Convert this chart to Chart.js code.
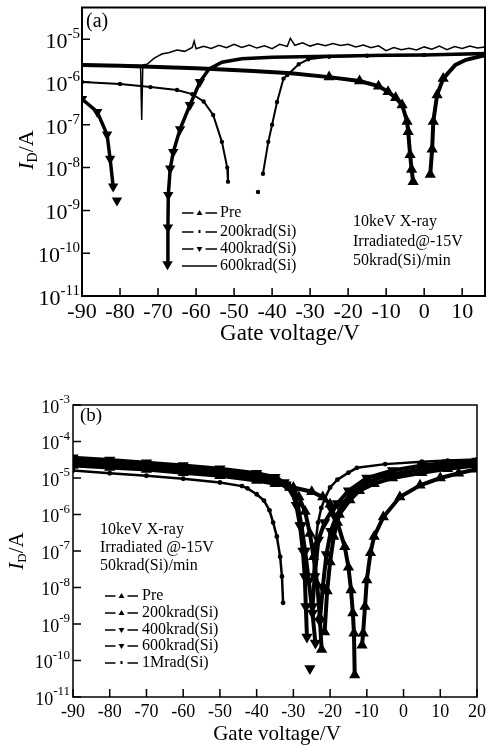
<!DOCTYPE html>
<html>
<head>
<meta charset="utf-8">
<script src="https://cdn.jsdelivr.net/npm/chart.js@4.4.1/dist/chart.umd.min.js"></script>
<style>
    html, body { margin: 0; padding: 0; background: #fff; }
    #wrap { position: relative; width: 496px; height: 747px; overflow: hidden; }
    .panel { position: absolute; left: 0; width: 496px; }
    #panelA { top: 0; height: 345px; }
    #panelB { top: 370px; height: 377px; }
</style>
</head>
<body>
<div id="wrap">
    <div class="panel" id="panelA"><canvas id="chartA"></canvas></div>
    <div class="panel" id="panelB"><canvas id="chartB"></canvas></div>
</div>
<script>
// ---- Panel (a): datos ----
const aXTicks = [-90, -80, -70, -60, -50, -40, -30, -20, -10, 0, 10];
const aYExps = [-11, -10, -9, -8, -7, -6, -5];
const aLabels = ['Pre', '200krad(Si)', '400krad(Si)', '600krad(Si)'];
const aNotes = ['10keV X-ray', 'Irradiated@-15V', '50krad(Si)/min'];

const aPreVg = [-90, -80, -70, -60, -53, -45, -35, -25, -17, -12, -9.5, -7.5, -5.8, -4.5, -4.2, -3.7, -3.3, -2.9, 0,
    1.6, 2.1, 2.4, 3.4, 5, 8.2, 11, 16];
const aPreId = [2.5e-6, 2.4e-6, 2.25e-6, 2.1e-6, 1.95e-6, 1.8e-6, 1.6e-6, 1.3e-6, 1.05e-6, 8e-7, 5.9e-7, 4.3e-7, 2.9e-7, 1.2e-7, 6.9e-8, 2e-8, 9e-9, 4.7e-9, null,
    6.9e-9, 2.7e-8, 1.2e-7, 5e-7, 1.2e-6, 2.5e-6, 3.3e-6, 4.2e-6];

const a200Vg = [-90, -80, -72, -65, -61, -58, -55.5, -53.2, -51.8, -51.6, -47, -43.7, -43, -42.4, -41, -40, -38.7, -37, -36, -33, -30.5, -25, -15, 0, 16];
const a200Id = [1e-6, 9e-7, 7.6e-7, 6.5e-7, 5.2e-7, 3.5e-7, 1.7e-7, 4e-8, 1e-8, 4.7e-9, null, 2.7e-9, null,
    7.2e-9, 4e-8, 1e-7, 3.4e-7, 1.2e-6, 1.45e-6, 2.6e-6, 3.4e-6, 3.9e-6, 4.1e-6, 4.3e-6, 4.5e-6];

const a400Vg = [-90, -86, -83.4, -82.6, -81.8, -81.3, -80.8, -74,
    -67.5, -67.4, -67.3, -66.8, -66, -64.2, -61.6, -59, -56.6, -53.2, -48, -40, -25, -10, 0, 16];
const a400Id = [4e-7, 2e-7, 5.9e-8, 1.6e-8, 3.6e-9, null, 1.7e-9, null,
    5.5e-11, 4e-10, 2.3e-9, 9.5e-9, 2.3e-8, 7.9e-8, 2.9e-7, 1e-6, 2e-6, 2.9e-6, 3.5e-6, 3.8e-6, 4e-6, 4.2e-6, 4.3e-6, 4.6e-6];

const a600Vg = [-90, -82, -74.6, -74.3, -74.0, -72.9, -71, -69, -67, -65, -63, -61, -60.5, -60, -58, -56, -54, -52, -50, -48, -46,
    -44, -42, -40, -38, -36, -35.2, -34, -32, -30, -28, -26, -24, -22, -20, -18, -16, -14, -12, -10, -8, -6, -4, -2, 0, 2, 4, 6,
    8, 10, 12, 14, 16];
const a600Id = [2.6e-6, 2.5e-6, 2.45e-6, 1.3e-7, 2.5e-6, 2.6e-6, 3.6e-6, 4.5e-6, 4.9e-6, 5.6e-6, 5.2e-6, 6.4e-6, 9e-6, 6e-6, 6.8e-6, 6.1e-6, 7.2e-6, 6.3e-6, 7.6e-6, 6.4e-6, 7.3e-6,
    6.2e-6, 7e-6, 6e-6, 7.6e-6, 6.8e-6, 1.05e-5, 7.2e-6, 8.2e-6, 6.9e-6, 7.8e-6, 7e-6, 7.9e-6, 7.1e-6, 7.6e-6, 6.6e-6, 7.3e-6, 6.3e-6, 7e-6, 5.4e-6, 6.4e-6, 5.7e-6, 6.1e-6, 5.6e-6, 6.6e-6, 5.8e-6, 6.9e-6, 5.7e-6,
    6.7e-6, 6.1e-6, 6.9e-6, 6.2e-6, 6.6e-6];

// ---- Panel (b): datos ----
const bXTicks = [-90, -80, -70, -60, -50, -40, -30, -20, -10, 0, 10, 20];
const bYExps = [-11, -10, -9, -8, -7, -6, -5, -4, -3];
const bLabels = ['Pre', '200krad(Si)', '400krad(Si)', '600krad(Si)', '1Mrad(Si)'];
const bNotes = ['10keV X-ray', 'Irradiated @-15V', '50krad(Si)/min'];

const bPreVg = [-90, -80, -70, -60, -50, -40, -35, -30, -25, -22, -20, -18, -16, -15, -14.3, -13.8, -13.5, -13.3, -12,
    -11.3, -11, -10.5, -10, -9, -8, -5.5, -1, 4.5, 10, 15, 20];
const bPreId = [2.2e-5, 1.95e-5, 1.7e-5, 1.4e-5, 1.15e-5, 8.5e-6, 7e-6, 5.5e-6, 4.2e-6, 3e-6, 1.9e-6, 6e-7, 1.3e-7, 3.6e-8, 8.5e-9, 2e-9, 5.6e-10, 4e-11, null,
    2.6e-10, 5.6e-10, 3e-9, 1.6e-8, 9e-8, 2.5e-7, 8.5e-7, 3e-6, 6.3e-6, 1e-5, 1.35e-5, 1.75e-5];

const b200Vg = [-90, -80, -70, -60, -50, -40, -35, -31, -28.5, -26.8, -25.5, -24.5, -23.5, -22.8, -22.3, -22,
    -21.5, -20.8, -20, -19, -17.5, -14.6, -12, -8, -3, 5, 12, 20];
const b200Id = [2.7e-5, 2.35e-5, 2e-5, 1.65e-5, 1.35e-5, 1e-5, 8e-6, 5.5e-6, 3e-6, 1.2e-6, 3e-7, 7e-8, 1.2e-8, 1.5e-9, 2e-10, null,
    6e-10, 8e-9, 5e-8, 2.5e-7, 1e-6, 2.5e-6, 4.5e-6, 7e-6, 1e-5, 1.4e-5, 1.8e-5, 2.2e-5];

const b400Vg = [-90, -80, -70, -60, -50, -40, -35, -32, -30, -28.8, -27.8, -26.8, -25.8, -24.8, -24, -23.4,
    -22.8, -22, -21, -19.8, -18.5, -16.5, -14, -10, -5, 5, 12, 20];
const b400Id = [3.1e-5, 2.7e-5, 2.3e-5, 1.9e-5, 1.55e-5, 1.15e-5, 9e-6, 6.5e-6, 4e-6, 1.8e-6, 5e-7, 1e-7, 1.5e-8, 2e-9, 3e-10, null,
    1.2e-9, 1e-8, 8e-8, 3.5e-7, 8e-7, 2e-6, 4e-6, 7.5e-6, 1.15e-5, 1.75e-5, 2.2e-5, 2.6e-5];

const b600Vg = [-90, -80, -70, -60, -50, -40, -35, -32.5, -30.5, -29.2, -28.2, -27.4, -26.9, -26.6, -26.3, -25.9, -25.5, -25.1,
    -24.8, -24.2, -23.2, -21.5, -19.5, -18, -15, -10, -3, 5, 12, 20];
const b600Id = [3.6e-5, 3.1e-5, 2.6e-5, 2.2e-5, 1.8e-5, 1.35e-5, 1.05e-5, 7.5e-6, 4.5e-6, 1.8e-6, 5e-7, 1e-7, 2e-8, 3e-9, 4.4e-10, null, 6e-11, null,
    3e-9, 2e-8, 2e-7, 6e-7, 1.3e-6, 2e-6, 4.5e-6, 1e-5, 1.6e-5, 2.2e-5, 2.6e-5, 2.9e-5];

const b1MVg = [-90, -80, -70, -60, -50, -44, -42.5, -40, -38, -36.5, -35.5, -34.5, -33.6, -33.1, -32.8, -28,
    -24.6, -24, -23.3, -22.4, -21.4, -20, -18, -15, -12.7, -5, 5, 12, 20];
const b1MId = [1.6e-5, 1.35e-5, 1.15e-5, 9.5e-6, 7.5e-6, 6e-6, 5.2e-6, 3.6e-6, 2.4e-6, 1.3e-6, 6e-7, 2.5e-7, 7e-8, 2e-8, 3.8e-9, null,
    2e-8, 1.5e-7, 6e-7, 1.5e-6, 2.8e-6, 5.5e-6, 9e-6, 1.4e-5, 1.9e-5, 2.4e-5, 2.8e-5, 3e-5, 3.2e-5];

const FONT = '"Liberation Serif", "Times New Roman", serif';

document.addEventListener('DOMContentLoaded', function () {

    function toPoints(vg, id) {
        return vg.map((v, i) => ({ x: v, y: id[i] }));
    }

    function series(vg, id, opts) {
        return Object.assign({
            data: toPoints(vg, id),
            borderColor: '#000',
            backgroundColor: '#000',
            pointBorderColor: '#000',
            pointBackgroundColor: '#000',
            borderWidth: 2,
            pointRadius: 0,
            tension: 0,
            spanGaps: false
        }, opts);
    }

    // En (a) los marcadores solo se distinguen en las caídas
    function dropRadius(ctx) {
        const p = ctx.raw;
        return p && p.y !== null && p.y < 1.5e-6 ? 2.5 : 0;
    }

    // Marcas de la leyenda
    function legendSample(ctx, kind, x0, x1, y) {
        const mid = (x0 + x1) / 2;
        ctx.lineWidth = 1.5;
        ctx.beginPath();
        if (kind === 'solid') {
            ctx.moveTo(x0, y); ctx.lineTo(x1, y);
        } else {
            ctx.moveTo(x0, y); ctx.lineTo(mid - 6, y);
            ctx.moveTo(mid + 6, y); ctx.lineTo(x1, y);
        }
        ctx.stroke();
        if (kind === 'up' || kind === 'down') {
            const s = kind === 'up' ? -1 : 1;
            ctx.beginPath();
            ctx.moveTo(mid - 3, y - s * 2);
            ctx.lineTo(mid + 3, y - s * 2);
            ctx.lineTo(mid, y + s * 3);
            ctx.closePath();
            ctx.fill();
        } else if (kind === 'dot') {
            ctx.fillRect(mid - 1, y - 2, 2, 3);
        }
    }

    function drawPow(ctx, exp, rightX, y, st) {
        const sup = String(exp);
        ctx.font = `${st.ySup}px ${FONT}`;
        const sw = ctx.measureText(sup).width;
        ctx.textAlign = 'left';
        ctx.textBaseline = 'middle';
        ctx.fillText(sup, rightX - sw, y - 5);
        ctx.font = `${st.yBase}px ${FONT}`;
        ctx.textAlign = 'right';
        ctx.fillText('10', rightX - sw, y + 3);
    }

    function makeDecor(st) {
        return {
            id: 'decor',
            afterDraw(chart) {
                const ctx = chart.ctx;
                const area = chart.chartArea;
                const xs = chart.scales.x;
                const ys = chart.scales.y;
                ctx.save();
                ctx.strokeStyle = '#000';
                ctx.fillStyle = '#000';

                // Marco
                ctx.lineWidth = st.frameWidth;
                ctx.strokeRect(area.left, area.top, area.right - area.left, area.bottom - area.top);

                // Marcas de los ejes (hacia dentro)
                ctx.lineWidth = 1.5;
                ctx.beginPath();
                st.xTicks.forEach(v => {
                    const px = xs.getPixelForValue(v);
                    ctx.moveTo(px, area.bottom);
                    ctx.lineTo(px, area.bottom - st.tickLen);
                });
                st.yExps.forEach(e => {
                    const py = ys.getPixelForValue(Math.pow(10, e));
                    ctx.moveTo(area.left, py);
                    ctx.lineTo(area.left + st.tickLen, py);
                });
                ctx.stroke();

                // Etiquetas de los ejes
                ctx.font = `${st.xTickFont}px ${FONT}`;
                ctx.textAlign = 'center';
                ctx.textBaseline = 'middle';
                st.xTicks.forEach(v => {
                    ctx.fillText(String(v), xs.getPixelForValue(v), st.xLabelY);
                });
                st.yExps.forEach(e => {
                    drawPow(ctx, e, st.yLabelRight, ys.getPixelForValue(Math.pow(10, e)), st);
                });

                // Título del eje x
                ctx.font = `${st.xTitle.size}px ${FONT}`;
                ctx.textAlign = 'center';
                ctx.fillText(st.xTitle.text, st.xTitle.x, st.xTitle.y);

                // Título del eje y: I_D/A
                ctx.save();
                ctx.translate(st.yTitle.x, st.yTitle.y);
                ctx.rotate(-Math.PI / 2);
                const big = `${st.yTitle.size}px ${FONT}`;
                const ital = `italic ${st.yTitle.size}px ${FONT}`;
                const small = `${Math.round(st.yTitle.size * 0.62)}px ${FONT}`;
                ctx.font = ital; const wI = ctx.measureText('I').width;
                ctx.font = small; const wD = ctx.measureText('D').width;
                ctx.font = big; const wA = ctx.measureText('/A').width;
                let tx = -(wI + wD + wA) / 2;
                ctx.textAlign = 'left';
                ctx.textBaseline = 'middle';
                ctx.font = ital; ctx.fillText('I', tx, 0); tx += wI;
                ctx.font = small; ctx.fillText('D', tx, 6); tx += wD;
                ctx.font = big; ctx.fillText('/A', tx, 0);
                ctx.restore();

                // Etiqueta del panel
                ctx.font = `${st.tag.size}px ${FONT}`;
                ctx.textAlign = 'left';
                ctx.textBaseline = 'middle';
                ctx.fillText(st.tag.text, st.tag.x, st.tag.y);

                // Leyenda
                ctx.font = `${st.legend.size}px ${FONT}`;
                st.legend.labels.forEach((lab, i) => {
                    const y = st.legend.rows[i];
                    legendSample(ctx, st.legend.kinds[i], st.legend.x0, st.legend.x1, y);
                    ctx.fillText(lab, st.legend.text, y);
                });

                // Notas
                st.notes.lines.forEach((txt, i) => {
                    ctx.fillText(txt, st.notes.x, st.notes.rows[i]);
                });

                ctx.restore();
            }
        };
    }

    function createChart(canvasId, datasets, scales, padding, st) {
        const canvas = document.getElementById(canvasId);
        return new Chart(canvas.getContext('2d'), {
            type: 'line',
            data: { datasets: datasets },
            options: {
                responsive: true,
                maintainAspectRatio: false,
                animation: false,
                layout: { padding: padding },
                plugins: { legend: { display: false }, tooltip: { enabled: false } },
                scales: {
                    x: { type: 'linear', display: false, min: scales.xMin, max: scales.xMax },
                    y: { type: 'logarithmic', display: false, min: scales.yMin, max: scales.yMax }
                }
            },
            plugins: [makeDecor(st)]
        });
    }

    // Panel (a)
    const dataA = [
        series(aPreVg, aPreId, { borderWidth: 4, pointStyle: 'triangle', pointRadius: dropRadius }),
        series(a200Vg, a200Id, { borderWidth: 2, pointStyle: 'circle', pointRadius: 1.2 }),
        series(a400Vg, a400Id, { borderWidth: 3.5, pointStyle: 'triangle', pointRotation: 180, pointRadius: dropRadius }),
        series(a600Vg, a600Id, { borderWidth: 1.5 })
    ];
    createChart('chartA', dataA,
        { xMin: -90, xMax: 16, yMin: 1e-11, yMax: 5.5e-5 },
        { left: 82, top: 5, right: 11, bottom: 49 },
        {
            xTicks: aXTicks, yExps: aYExps,
            xTickFont: 22, yBase: 22, ySup: 15, yLabelRight: 80, xLabelY: 312,
            tickLen: 8, frameWidth: 2,
            xTitle: { text: 'Gate voltage/V', x: 290, y: 334, size: 23 },
            yTitle: { x: 27, y: 150, size: 22 },
            tag: { text: '(a)', x: 86, y: 22, size: 20 },
            legend: { labels: aLabels, kinds: ['up', 'dot', 'down', 'solid'], x0: 182, x1: 217, text: 220, rows: [213, 232, 249, 266], size: 16 },
            notes: { lines: aNotes, x: 353, rows: [222, 242, 261] }
        });

    // Panel (b)
    const dataB = [
        series(bPreVg, bPreId, { borderWidth: 4, pointStyle: 'triangle', pointRadius: 2.5 }),
        series(b200Vg, b200Id, { borderWidth: 4, pointStyle: 'triangle', pointRadius: 2.5 }),
        series(b400Vg, b400Id, { borderWidth: 4, pointStyle: 'triangle', pointRotation: 180, pointRadius: 2.5 }),
        series(b600Vg, b600Id, { borderWidth: 4, pointStyle: 'triangle', pointRotation: 180, pointRadius: 2.5 }),
        series(b1MVg, b1MId, { borderWidth: 2.5, pointStyle: 'circle', pointRadius: 1.2 })
    ];
    createChart('chartB', dataB,
        { xMin: -90, xMax: 20, yMin: 1e-11, yMax: 1e-3 },
        { left: 73, top: 35, right: 19, bottom: 50 },
        {
            xTicks: bXTicks, yExps: bYExps,
            xTickFont: 18, yBase: 18, ySup: 13, yLabelRight: 70, xLabelY: 342,
            tickLen: 8, frameWidth: 1.5,
            xTitle: { text: 'Gate voltage/V', x: 277, y: 364, size: 21 },
            yTitle: { x: 17, y: 181, size: 21 },
            tag: { text: '(b)', x: 80, y: 46, size: 19 },
            legend: { labels: bLabels, kinds: ['up', 'up', 'down', 'down', 'dot'], x0: 105, x1: 138, text: 142, rows: [226, 243, 260, 276, 293], size: 16 },
            notes: { lines: bNotes, x: 100, rows: [160, 178, 196] }
        });
});
</script>
</body>
</html>
